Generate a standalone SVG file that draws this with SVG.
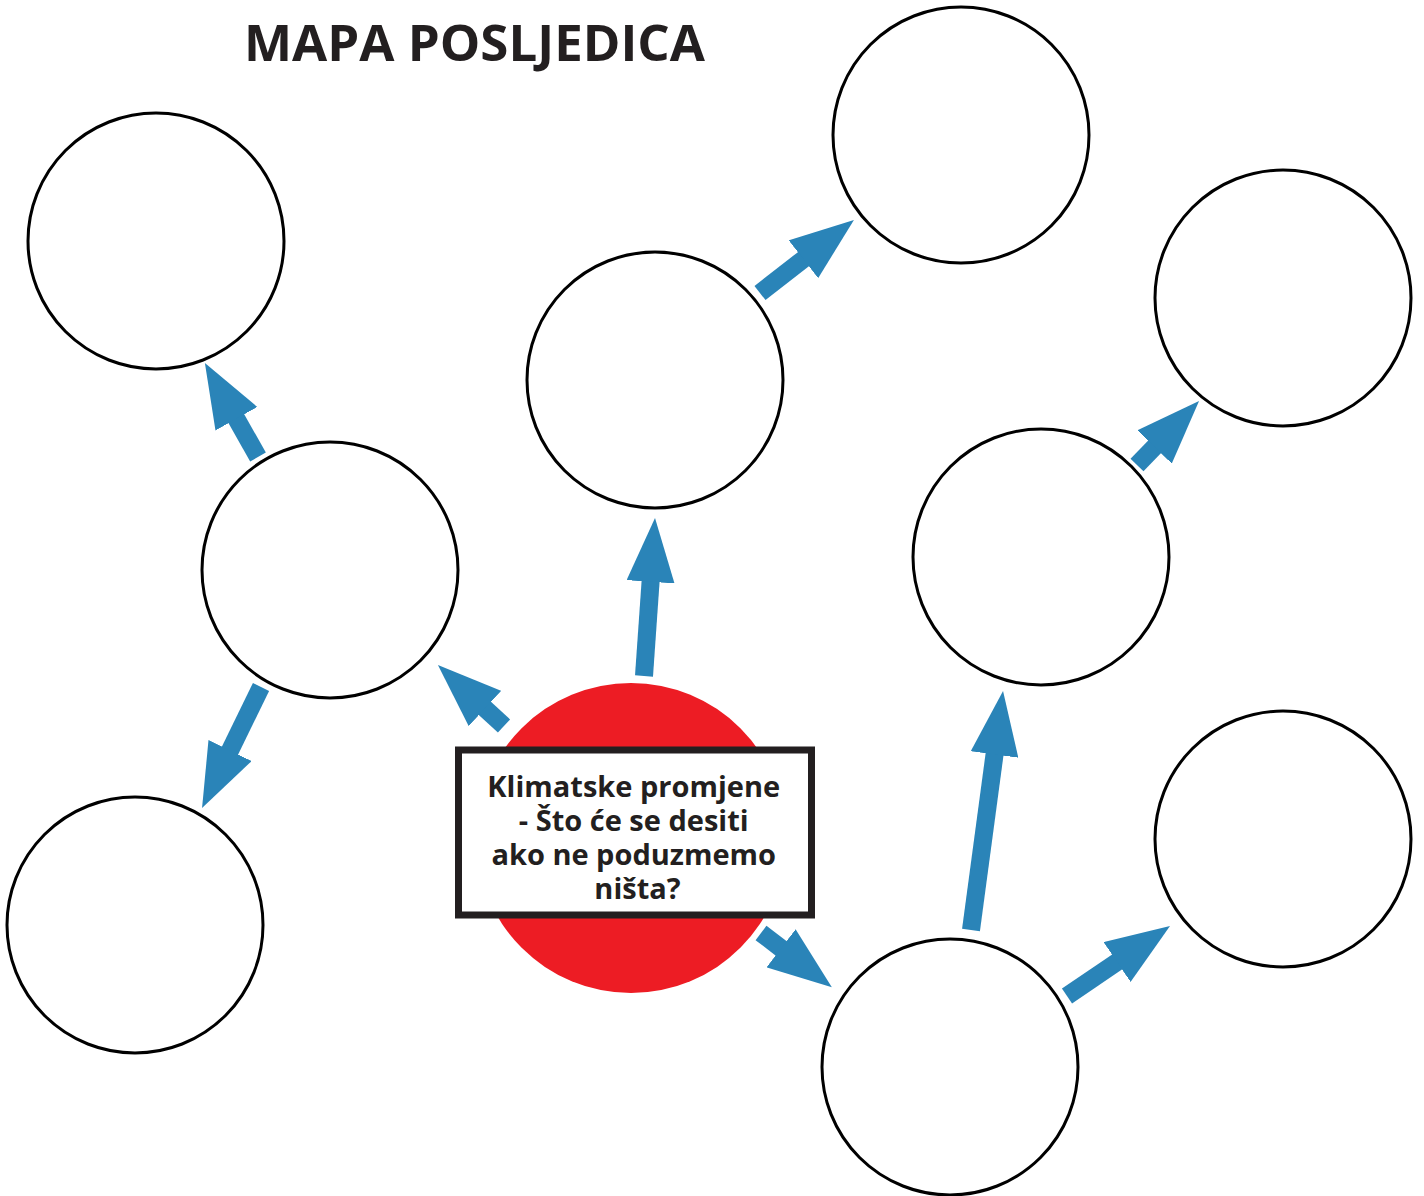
<svg xmlns="http://www.w3.org/2000/svg" width="1424" height="1196" viewBox="0 0 1424 1196">
<style>
.node{fill:#fff;stroke:#000;stroke-width:3}
.conn{stroke:#2a84b8;stroke-width:18;fill:none;marker-end:url(#head)}
.t{font-family:"Open Sans","Noto Sans","DejaVu Sans",sans-serif;font-weight:bold;fill:#231f20}
</style>
<defs>
<marker id="head" markerUnits="userSpaceOnUse" markerWidth="64" markerHeight="48" viewBox="0 -24 64 48" refX="2" refY="0" orient="auto">
<path d="M0,-24 L64,0 L0,24 z" fill="#2a84b8"/>
</marker>
</defs>
<rect width="1424" height="1196" fill="#fff"/>
<text class="t" x="244" y="61" font-size="51">MAPA POSLJEDICA</text>
<g id="n1"><circle class="node" cx="156" cy="241" r="128"/></g>
<g id="n2"><circle class="node" cx="330" cy="570" r="128"/></g>
<g id="n3"><circle class="node" cx="135" cy="925" r="128"/></g>
<g id="n4"><circle class="node" cx="655" cy="380" r="128"/></g>
<g id="n5"><circle class="node" cx="961" cy="135" r="128"/></g>
<g id="n6"><circle class="node" cx="1283" cy="298" r="128"/></g>
<g id="n7"><circle class="node" cx="1041" cy="557" r="128"/></g>
<g id="n8"><circle class="node" cx="1283" cy="839" r="128"/></g>
<g id="n9"><circle class="node" cx="950" cy="1067" r="128"/></g>
<g id="center">
<circle cx="631" cy="838" r="155" fill="#ed1c24"/>
<rect x="458.5" y="750" width="353" height="165" fill="#fff" stroke="#231f20" stroke-width="7"/>
<text class="t" font-size="29" text-anchor="middle">
<tspan x="637.5" y="797">Klimatske promjene</tspan>
<tspan x="637.5" y="831">- Što će se desiti</tspan>
<tspan x="637.5" y="865">ako ne poduzmemo</tspan>
<tspan x="637.5" y="899">ništa?</tspan>
</text>
</g>
<g id="connectors">
<line class="conn" x1="644" y1="676" x2="650.7" y2="579.8"/>
<line class="conn" x1="760" y1="293" x2="805" y2="258"/>
<line class="conn" x1="258" y1="457" x2="235.4" y2="417"/>
<line class="conn" x1="261" y1="687" x2="229.2" y2="752.3"/>
<line class="conn" x1="504" y1="726" x2="483.5" y2="707.1"/>
<line class="conn" x1="761" y1="933" x2="782.6" y2="949.5"/>
<line class="conn" x1="971" y1="930" x2="994.8" y2="752.5"/>
<line class="conn" x1="1067" y1="996" x2="1118.7" y2="960.9"/>
<line class="conn" x1="1137" y1="465" x2="1155.9" y2="445.5"/>
</g>
</svg>
